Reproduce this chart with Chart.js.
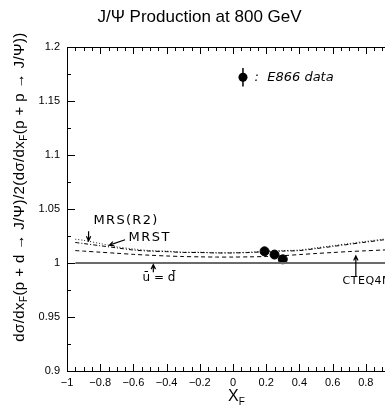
<!DOCTYPE html>
<html>
<head>
<meta charset="utf-8">
<script src="https://cdn.jsdelivr.net/npm/chart.js@4.4.1/dist/chart.umd.min.js"></script>
<style>
  html, body { margin: 0; padding: 0; background: #fff; overflow: hidden; }
  #wrap { width: 410px; height: 411px; }
</style>
</head>
<body>
<div id="wrap"><canvas id="chart" width="410" height="411"></canvas></div>
<script>
// curve x positions (x_F)
const xGrid = [-0.95, -0.9, -0.8, -0.7, -0.6, -0.5, -0.4, -0.3, -0.2, -0.1, 0, 0.1, 0.2, 0.3, 0.4, 0.5, 0.6, 0.7, 0.8, 0.9, 1.0];
const mrsR2 = [1.022, 1.021, 1.018, 1.015, 1.013, 1.0115, 1.011, 1.010, 1.010, 1.0095, 1.0095, 1.010, 1.011, 1.0115, 1.012, 1.014, 1.016, 1.018, 1.020, 1.022, 1.024];
const mrst = [1.019, 1.018, 1.016, 1.014, 1.012, 1.011, 1.0105, 1.0098, 1.0097, 1.0093, 1.0093, 1.0097, 1.0105, 1.011, 1.0115, 1.0133, 1.0153, 1.0173, 1.0193, 1.0213, 1.0233];
const cteq4m = [1.0115, 1.011, 1.010, 1.009, 1.008, 1.0072, 1.0065, 1.006, 1.0057, 1.0055, 1.0055, 1.0057, 1.006, 1.0068, 1.0078, 1.0088, 1.0097, 1.0106, 1.0113, 1.012, 1.0127];
const symX = [-0.95, 1.0];
const symY = [1, 1];

// E866 measurements
const e866X = [0.19, 0.25, 0.30];
const e866Y = [1.0108, 1.0078, 1.0034];
const e866Err = [0.004, 0.002, 0.002];

// axis ticks
const xTicks = [-1, -0.8, -0.6, -0.4, -0.2, 0, 0.2, 0.4, 0.6, 0.8, 1];
const yTicks = [0.9, 0.95, 1, 1.05, 1.1, 1.15, 1.2];

const pts = (xs, ys) => xs.map((x, i) => ({x: x, y: ys[i]}));
const fmt = v => {
    const s = String(+v.toFixed(3));
    return s.replace('-', '\u2212');
};

function arrow(ctx, x1, y1, x2, y2) {
    const a = Math.atan2(y2 - y1, x2 - x1);
    ctx.beginPath();
    ctx.moveTo(x1, y1);
    ctx.lineTo(x2, y2);
    ctx.moveTo(x2 - 5 * Math.cos(a - 0.45), y2 - 5 * Math.sin(a - 0.45));
    ctx.lineTo(x2, y2);
    ctx.lineTo(x2 - 5 * Math.cos(a + 0.45), y2 - 5 * Math.sin(a + 0.45));
    ctx.stroke();
}

// draws inward ticks, top border, error bars and the hand-written labels
const extras = {
    id: 'extras',
    afterDatasetsDraw(chart) {
        const {ctx, chartArea: a, scales: {x, y}} = chart;
        ctx.save();
        ctx.strokeStyle = '#000';
        ctx.lineWidth = 1;
        // error bars
        e866X.forEach((v, i) => {
            const px = x.getPixelForValue(v);
            ctx.beginPath();
            ctx.moveTo(px, y.getPixelForValue(e866Y[i] - e866Err[i]));
            ctx.lineTo(px, y.getPixelForValue(e866Y[i] + e866Err[i]));
            ctx.stroke();
        });
        // frame top
        ctx.beginPath();
        ctx.moveTo(a.left, a.top + 0.5);
        ctx.lineTo(a.right, a.top + 0.5);
        ctx.stroke();
        // inward ticks on x (bottom + top)
        for (let k = 0; k <= 40; k++) {
            const v = -1 + k * 0.05;
            const px = Math.round(x.getPixelForValue(v)) + 0.5;
            const len = k % 4 === 0 ? 7 : 4;
            ctx.beginPath();
            ctx.moveTo(px, a.bottom);
            ctx.lineTo(px, a.bottom - len);
            ctx.moveTo(px, a.top);
            ctx.lineTo(px, a.top + len);
            ctx.stroke();
        }
        // inward ticks on y
        for (let k = 0; k <= 12; k++) {
            const v = 0.9 + k * 0.025;
            const py = Math.round(y.getPixelForValue(v)) + 0.5;
            const len = k % 2 === 0 ? 8 : 4;
            ctx.beginPath();
            ctx.moveTo(a.left, py);
            ctx.lineTo(a.left + len, py);
            ctx.stroke();
        }

        // legend marker
        const lx = x.getPixelForValue(0.06), ly = y.getPixelForValue(1.172);
        ctx.lineWidth = 1.5;
        ctx.beginPath();
        ctx.moveTo(lx, y.getPixelForValue(1.1805));
        ctx.lineTo(lx, y.getPixelForValue(1.1635));
        ctx.stroke();
        ctx.beginPath();
        ctx.arc(lx, ly, 4.5, 0, Math.PI * 2);
        ctx.fillStyle = '#000';
        ctx.fill();
        ctx.font = 'italic 13px "DejaVu Sans"';
        ctx.textBaseline = 'middle';
        ctx.fillText(':  E866 data', x.getPixelForValue(0.13), ly);

        // curve labels
        ctx.lineWidth = 1.2;
        ctx.font = '13px "DejaVu Sans"';
        ctx.letterSpacing = '1.3px';
        ctx.fillText('MRS(R2)', x.getPixelForValue(-0.84), y.getPixelForValue(1.0395));
        arrow(ctx, x.getPixelForValue(-0.87), y.getPixelForValue(1.0295), x.getPixelForValue(-0.87), y.getPixelForValue(1.0205));
        ctx.letterSpacing = '1.5px';
        ctx.fillText('MRST', x.getPixelForValue(-0.63), y.getPixelForValue(1.0234));
        arrow(ctx, x.getPixelForValue(-0.65), y.getPixelForValue(1.0215), x.getPixelForValue(-0.745), y.getPixelForValue(1.0165));
        ctx.letterSpacing = '0px';
        ctx.font = '12px "DejaVu Sans"';
        ctx.fillText('u\u0304 = d\u0304', x.getPixelForValue(-0.545), y.getPixelForValue(0.9865));
        arrow(ctx, x.getPixelForValue(-0.48), y.getPixelForValue(0.9915), x.getPixelForValue(-0.48), y.getPixelForValue(0.9985));
        ctx.font = '11px "DejaVu Sans"';
        ctx.letterSpacing = '0.5px';
        ctx.fillText('CTEQ4M', x.getPixelForValue(0.66), y.getPixelForValue(0.983));
        arrow(ctx, x.getPixelForValue(0.74), y.getPixelForValue(0.9875), x.getPixelForValue(0.74), y.getPixelForValue(1.0065));
        ctx.letterSpacing = '0px';

        // y axis title with subscripts, rotated
        const big = '15px "Liberation Sans"', small = '10px "Liberation Sans"';
        const parts = [['d\u03c3/dx', 0], ['F', 1], ['(p + d \u2192 J/\u03a8)/2(d\u03c3/dx', 0], ['F', 1], ['(p + p \u2192 J/\u03a8))', 0]];
        ctx.letterSpacing = '0.4px';
        let total = 0;
        parts.forEach(p => { ctx.font = p[1] ? small : big; total += ctx.measureText(p[0]).width; });
        ctx.translate(20, 187);
        ctx.rotate(-Math.PI / 2);
        let cx = -total / 2;
        ctx.textAlign = 'left';
        parts.forEach(p => {
            ctx.font = p[1] ? small : big;
            ctx.fillText(p[0], cx, p[1] ? 4 : 0);
            cx += ctx.measureText(p[0]).width;
        });
        ctx.setTransform(1, 0, 0, 1, 0, 0);
        ctx.letterSpacing = '0px';

        // x axis title
        ctx.font = '16px "Liberation Sans"';
        const wX = ctx.measureText('X').width;
        ctx.fillText('X', 228, 397);
        ctx.font = '10px "Liberation Sans"';
        ctx.fillText('F', 228 + wX, 402);
        ctx.restore();
    }
};

new Chart(document.getElementById('chart'), {
    type: 'scatter',
    data: {
        datasets: [
            {label: 'u=d', data: pts(symX, symY), showLine: true, borderColor: '#6a6a6a', borderWidth: 2, pointRadius: 0},
            {label: 'CTEQ4M', data: pts(xGrid, cteq4m), showLine: true, borderColor: '#000', borderWidth: 1, borderDash: [4, 3], pointRadius: 0, tension: 0.3},
            {label: 'MRST', data: pts(xGrid, mrst), showLine: true, borderColor: '#000', borderWidth: 1, borderDash: [4, 2, 1, 2], pointRadius: 0, tension: 0.3},
            {label: 'MRS(R2)', data: pts(xGrid, mrsR2), showLine: true, borderColor: '#222', borderWidth: 1, borderDash: [1, 2], pointRadius: 0, tension: 0.3},
            {label: 'E866 data', data: pts(e866X, e866Y), pointRadius: 4.5, pointBackgroundColor: '#000', pointBorderColor: '#000'}
        ]
    },
    options: {
        responsive: false,
        animation: false,
        layout: {padding: {top: 0, right: 11, bottom: 0, left: 0}},
        plugins: {
            legend: {display: false},
            tooltip: {enabled: false},
            title: {
                display: true,
                text: 'J/\u03a8 Production at 800 GeV',
                color: '#000',
                font: {family: '"Liberation Sans"', size: 17, weight: 'normal'},
                padding: {top: 7, bottom: 19.6}
            }
        },
        scales: {
            x: {
                type: 'linear', min: -1, max: 1,
                afterBuildTicks: s => { s.ticks = xTicks.map(v => ({value: v})); },
                afterFit: s => { s.height = 40; },
                grid: {display: false, drawTicks: false},
                border: {display: true, color: '#000', width: 1},
                ticks: {padding: 5, color: '#000', font: {family: '"Liberation Sans"', size: 11}, callback: v => fmt(v), maxRotation: 0, autoSkip: false}
            },
            y: {
                type: 'linear', min: 0.9, max: 1.2,
                afterBuildTicks: s => { s.ticks = yTicks.map(v => ({value: v})); },
                afterFit: s => { s.width = 67; },
                grid: {display: false, drawTicks: false},
                border: {display: true, color: '#000', width: 1},
                ticks: {padding: 7, color: '#000', font: {family: '"Liberation Sans"', size: 11}, callback: v => fmt(v)}
            }
        }
    },
    plugins: [extras]
});
</script>
</body>
</html>
